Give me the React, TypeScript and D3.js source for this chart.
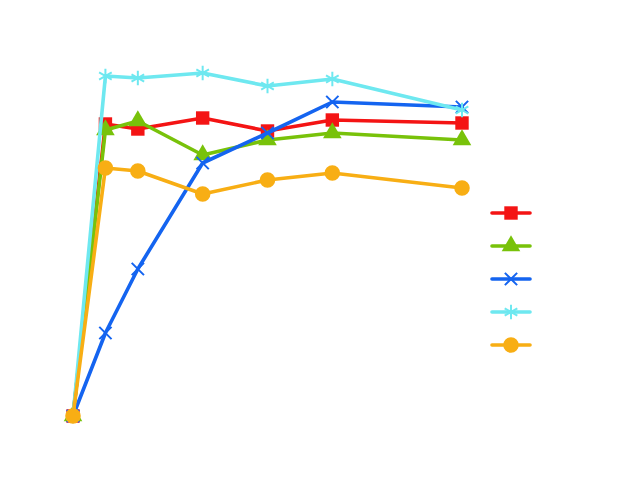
import React from 'react'
import * as d3 from 'd3'

const W = 640
const H = 478

// x positions (no axis drawn in the reference)
const xValues = [0, 1, 2, 4, 6, 8, 12]

const seriesNames = ['A', 'B', 'C', 'D', 'E']
const redValues = [0, 73, 71.75, 74.5, 71.25, 74, 73.25]
const greenValues = [0, 71.5, 73.75, 65.25, 69, 70.75, 69]
const blueValues = [0, 20.75, 36.75, 63.25, 70.75, 78.5, 77.25]
const cyanValues = [0, 85, 84.5, 85.75, 82.5, 84.25, 76.5]
const orangeValues = [0, 62, 61.25, 55.5, 59, 60.75, 57]

const colors = ['#f41414', '#78c20a', '#1464f0', '#6ee8f0', '#f8ae14']
const symbols = [d3.symbolSquare, d3.symbolTriangle, d3.symbolX, d3.symbolAsterisk, d3.symbolCircle]
const symbolSizes = [180, 150, 100, 150, 190]
const filled = [true, true, false, false, true]

export default function App() {
  const ref = React.useRef<SVGSVGElement>(null)

  React.useEffect(() => {
    const svg = d3.select(ref.current!)
    svg.selectAll('*').remove()

    const x = d3.scaleLinear().domain([0, 12]).range([73, 462])
    const y = d3.scaleLinear().domain([0, 100]).range([416, 16])

    const all = [redValues, greenValues, blueValues, cyanValues, orangeValues]
    const line = d3.line<number>().x((_, i) => x(xValues[i])).y(d => y(d))

    all.forEach((vals, si) => {
      const g = svg.append('g')
      g.append('path')
        .attr('d', line(vals)!)
        .attr('fill', 'none')
        .attr('stroke', colors[si])
        .attr('stroke-width', 3.6)
        .attr('stroke-linejoin', 'round')
        .attr('stroke-linecap', 'round')
      const sym = d3.symbol().type(symbols[si]).size(symbolSizes[si])
      g.selectAll('path.m').data(vals).enter().append('path')
        .attr('class', 'm')
        .attr('transform', (d, i) => `translate(${x(xValues[i])},${y(d)})`)
        .attr('d', sym()!)
        .attr('fill', filled[si] ? colors[si] : 'none')
        .attr('stroke', colors[si])
        .attr('stroke-width', filled[si] ? 0 : 2)
    })

    // legend (no labels in the reference)
    const lg = svg.append('g').attr('transform', 'translate(492,213)')
    seriesNames.forEach((name, si) => {
      const row = lg.append('g').attr('transform', `translate(0,${si * 33})`).attr('data-name', name)
      row.append('line').attr('x1', 0).attr('x2', 38).attr('y1', 0).attr('y2', 0)
        .attr('stroke', colors[si]).attr('stroke-width', 3.6).attr('stroke-linecap', 'round')
      row.append('path')
        .attr('transform', 'translate(19,0)')
        .attr('d', d3.symbol().type(symbols[si]).size(symbolSizes[si])()!)
        .attr('fill', filled[si] ? colors[si] : 'none')
        .attr('stroke', colors[si])
        .attr('stroke-width', filled[si] ? 0 : 2)
    })
  }, [])

  return (
    <svg ref={ref} width={W} height={H}
      style={{ position: 'absolute', left: 0, top: 0, background: '#fff' }} />
  )
}
